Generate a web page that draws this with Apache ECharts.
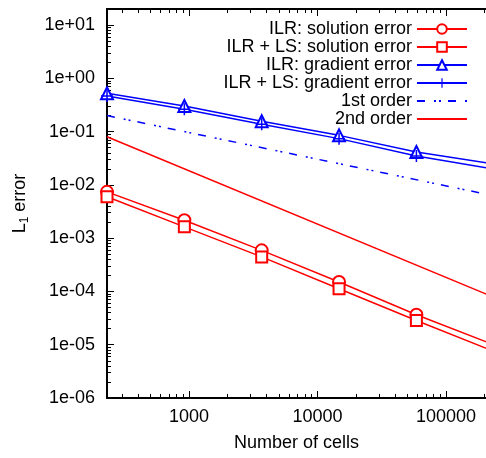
<!DOCTYPE html>
<html>
<head>
<meta charset="utf-8">
<script src="https://cdn.jsdelivr.net/npm/echarts@6/dist/echarts.min.js"></script>
<style>
  html, body { margin: 0; padding: 0; background: #fff; }
  #chart { width: 486px; height: 458px; }
</style>
</head>
<body>
<div id="chart"></div>
<script>
// number of cells per mesh (last one lies past the right edge, clipped)
var cells = [230, 920, 3680, 14720, 58880, 235520];

var ilrSolution   = [7.4e-3, 2.17e-3, 5.9e-4, 1.5e-4, 3.65e-5, 1.0e-5];
var ilrLsSolution = [6.0e-3, 1.63e-3, 4.45e-4, 1.12e-4, 2.85e-5, 7.5e-6];
var ilrGradient   = [0.526, 0.303, 0.156, 0.085, 0.0413, 0.0248];
var ilrLsGradient = [0.468, 0.263, 0.137, 0.0738, 0.0348, 0.0199];

// reference slopes, two end points each
var refCells    = [230, 235520];
var firstOrder  = [0.2, 0.00625];
var secondOrder = [0.08, 7.8e-5];

var xMajor = [1000, 10000, 100000];
var xMinor = [300, 400, 500, 600, 700, 800, 900,
  2000, 3000, 4000, 5000, 6000, 7000, 8000, 9000,
  20000, 30000, 40000, 50000, 60000, 70000, 80000, 90000, 200000];
var yMajor = [1e-6, 1e-5, 1e-4, 1e-3, 1e-2, 1e-1, 1, 10];
var yMinor = [];
yMajor.forEach(function (d) {
  [2, 3, 4, 5, 6, 7, 8, 9].forEach(function (m) {
    if (d * m < 20) yMinor.push(d * m);
  });
});

function pairs(xs, ys) {
  return xs.map(function (x, i) { return [x, ys[i]]; });
}

var font = 'Liberation Sans';
var xMin = 230, xMax = 205000, yMin = 1e-6, yMax = 20;

function xAx(pos, ticks, len, labels) {
  return {
    type: 'log', position: pos, min: xMin, max: xMax,
    axisLine: { show: true, onZero: false, lineStyle: { color: '#000', width: 2 } },
    axisTick: { show: true, inside: true, length: len, customValues: ticks,
      lineStyle: { color: '#000', width: 1 } },
    axisLabel: labels ? {
      show: true, customValues: xMajor, margin: 10, color: '#000',
      fontFamily: font, fontSize: 18,
      formatter: function (v) { return String(Math.round(v)); }
    } : { show: false },
    splitLine: { show: false }
  };
}

function yAx(ticks, len, labels) {
  return {
    type: 'log', position: 'left', min: yMin, max: yMax,
    axisLine: { show: true, onZero: false, lineStyle: { color: '#000', width: 2 } },
    axisTick: { show: true, inside: true, length: len, customValues: ticks,
      lineStyle: { color: '#000', width: 1 } },
    axisLabel: labels ? {
      show: true, customValues: yMajor, margin: 12, color: '#000',
      fontFamily: font, fontSize: 18,
      formatter: function (v) {
        var e = Math.round(Math.log10(v));
        return '1e' + (e < 0 ? '-' : '+') + String(Math.abs(e)).padStart(2, '0');
      }
    } : { show: false },
    splitLine: { show: false }
  };
}

var mainX = xAx('bottom', xMajor, 7, true);
mainX.name = 'Number of cells';
mainX.nameLocation = 'middle';
mainX.nameGap = 36;
mainX.nameTextStyle = { color: '#000', fontFamily: font, fontSize: 18 };

var mainY = yAx(yMajor, 7, true);
mainY.name = 'L{sub|1} error';
mainY.nameLocation = 'middle';
mainY.nameGap = 76;
mainY.nameTextStyle = { color: '#000', fontFamily: font, fontSize: 18,
  rich: { sub: { fontSize: 12, verticalAlign: 'bottom', padding: [9, 0, 0, 0], color: '#000', fontFamily: font } } };

var plus = 'path://M-0.125,-1H0.125V1H-0.125ZM-1,-0.125H1V0.125H-1Z';

function dataSeries(name, data, color, symbol, size) {
  return {
    name: name, type: 'line', data: data, xAxisIndex: 0, yAxisIndex: 0,
    symbol: symbol, symbolSize: size, showSymbol: true, clip: true,
    lineStyle: { color: color, width: 1.5 },
    itemStyle: { color: color, borderWidth: 1.5 },
    emphasis: { disabled: true }
  };
}

function refSeries(name, data, color, dash) {
  return {
    name: name, type: 'line', data: data, symbol: 'none', clip: true,
    lineStyle: { color: color, width: 1.5, type: dash },
    itemStyle: { color: color },
    emphasis: { disabled: true }
  };
}

var option = {
  animation: false,
  grid: { left: 107, right: 0, top: 9, bottom: 60 },
  legend: {
    orient: 'vertical', right: 13, top: 15, align: 'right',
    itemWidth: 50, itemHeight: 12, itemGap: 0,
    textStyle: { color: '#000', fontFamily: font, fontSize: 18 },
    data: ['ILR: solution error', 'ILR + LS: solution error', 'ILR: gradient error',
      'ILR + LS: gradient error',
      { name: '1st order', itemStyle: { opacity: 0 } },
      { name: '2nd order', itemStyle: { opacity: 0 } }]
  },
  xAxis: [mainX, xAx('bottom', xMinor, 4, false), xAx('top', xMajor, 7, false), xAx('top', xMinor, 4, false)],
  yAxis: [mainY, yAx(yMinor, 4, false)],
  series: [
    dataSeries('ILR: solution error', pairs(cells, ilrSolution), '#ff0000', 'emptyCircle', 12),
    dataSeries('ILR + LS: solution error', pairs(cells, ilrLsSolution), '#ff0000', 'emptyRect', 11),
    dataSeries('ILR: gradient error', pairs(cells, ilrGradient), '#0000ff', 'emptyTriangle', 12),
    dataSeries('ILR + LS: gradient error', pairs(cells, ilrLsGradient), '#0000ff', plus, 12),
    refSeries('1st order', pairs(refCells, firstOrder), '#0000ff', [8, 9, 2, 3, 2, 7]),
    refSeries('2nd order', pairs(refCells, secondOrder), '#ff0000', 'solid')
  ]
};

echarts.init(document.getElementById('chart')).setOption(option);
</script>
</body>
</html>
